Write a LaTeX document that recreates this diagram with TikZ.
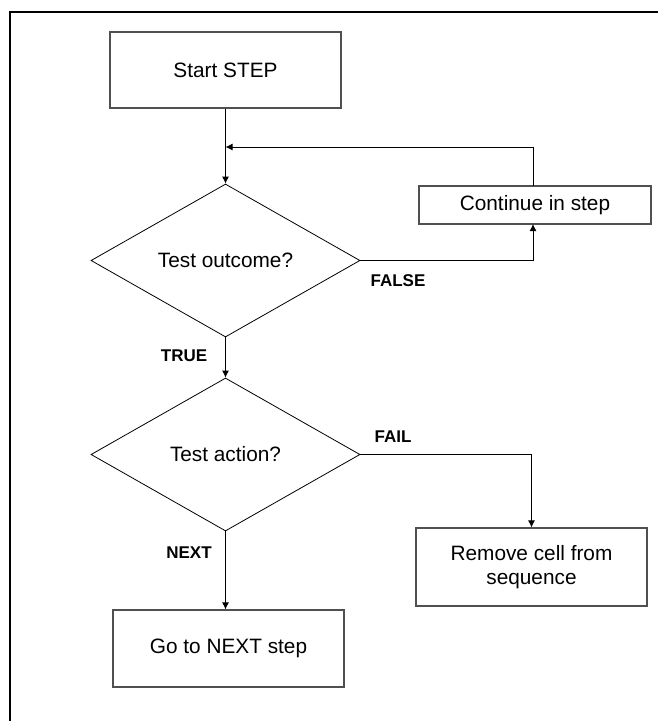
\documentclass[tikz,border=0pt]{standalone}
\usepackage{fontspec}
\setmainfont{Liberation Sans}
\usetikzlibrary{shapes.geometric,arrows.meta}
\definecolor{boxgray}{HTML}{505050}
\tikzset{
  stepbox/.style={draw=boxgray, line width=1.2pt, rectangle, inner sep=0pt, align=center, font=\fontsize{20.8}{24}\selectfont},
  decbox/.style={draw=black, line width=0.8pt, diamond, inner sep=0pt, minimum width=269pt, minimum height=153pt, font=\fontsize{20.8}{24}\selectfont},
  conn/.style={draw=black, line width=0.9pt},
  arr/.style={conn, -{Latex[length=7pt,width=7pt]}},
  lbl/.style={font=\bfseries\fontsize{17}{20}\selectfont, inner sep=0pt}
}
\begin{document}
\begin{tikzpicture}[x=1pt,y=-1pt]
\useasboundingbox (0,0) rectangle (658,721);
\draw[line width=2.5pt] (10,722) -- (10,12) -- (659,12);

\node[stepbox, minimum width=231pt, minimum height=76pt] (start) at (225.5,70) {Start STEP};
\node[decbox] (d1) at (225.5,260.5) {Test outcome?};
\node[stepbox, minimum width=232pt, minimum height=38pt] (cont) at (535,205) {Continue in step};
\node[decbox] (d2) at (225.5,454.5) {Test action?};
\node[stepbox, minimum width=231pt, minimum height=78pt] (remove) at (531.5,567) {Remove cell from\\sequence};
\node[stepbox, minimum width=231pt, minimum height=77pt] (go) at (228.5,648.5) {Go to NEXT step};

\coordinate (cb) at (533,224);
\coordinate (ct) at (533,186);
\coordinate (join) at (225.5,147);

\draw[arr] (start.south) -- (d1.north);
\draw[arr] (d1.east) -| (cb);
\draw[arr] (ct) |- (join);
\draw[arr] (d1.south) -- (d2.north);
\draw[arr] (d2.east) -| (remove.north);
\draw[arr] (d2.south) -- (d2.south |- go.north);

\node[lbl] (lfalse) at (398,281) {FALSE};
\node[lbl] (ltrue) at (184,356) {TRUE};
\node[lbl] (lfail) at (393,437) {FAIL};
\node[lbl] (lnext) at (189,553) {NEXT};
\end{tikzpicture}
\end{document}
